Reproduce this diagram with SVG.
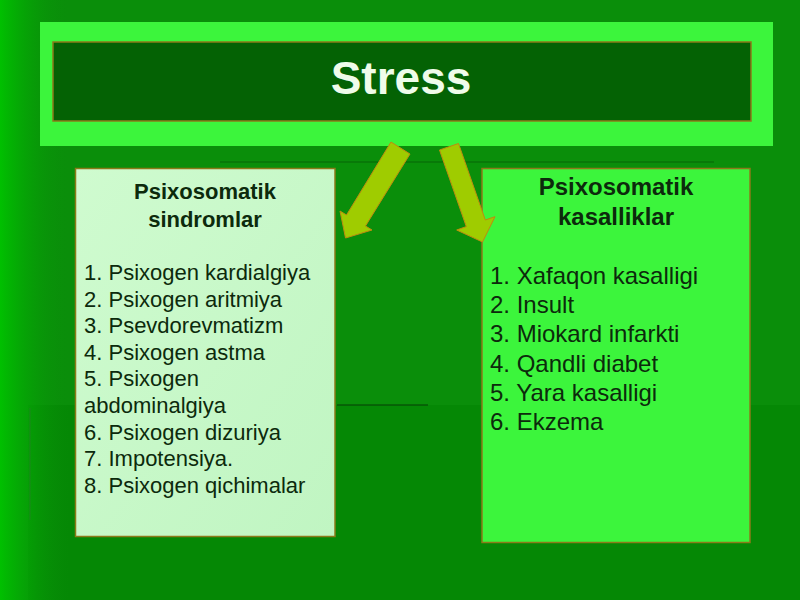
<svg xmlns="http://www.w3.org/2000/svg" width="800" height="600" viewBox="0 0 800 600">
  <defs>
    <linearGradient id="leftGlow" x1="0" y1="0" x2="1" y2="0">
      <stop offset="0" stop-color="#00c000"/>
      <stop offset="1" stop-color="#0a8e0a" stop-opacity="0"/>
    </linearGradient>
    <linearGradient id="paleFill" x1="0" y1="0" x2="1" y2="1">
      <stop offset="0" stop-color="#cffbcf"/>
      <stop offset="1" stop-color="#c0f5c2"/>
    </linearGradient>
    <style>
      .box { stroke: #8c7a1a; stroke-width: 1.5; }
      .head { font-family: "Liberation Sans", Arial, sans-serif; font-weight: bold; fill: #0c2a0c; text-anchor: middle; }
      .item { font-family: "Liberation Sans", Arial, sans-serif; fill: #0c2a0c; }
      .arrow { fill: #9fcc00; stroke: #c08a10; stroke-width: 1; stroke-linejoin: round; }
    </style>
  </defs>

  <!-- background -->
  <rect x="0" y="0" width="800" height="600" fill="#0a8e0a"/>
  <rect x="28" y="405" width="772" height="195" fill="#058805"/>
  <rect x="0" y="0" width="70" height="600" fill="url(#leftGlow)"/>
  <line x1="30" y1="408" x2="30" y2="520" stroke="#2f7a2f" stroke-width="1.5" opacity="0.4"/>
  <line x1="220" y1="162" x2="714" y2="162" stroke="#064a06" stroke-width="1.5" opacity="0.4"/>
  <line x1="337" y1="405" x2="428" y2="405" stroke="#064a06" stroke-width="2" opacity="0.6"/>

  <g id="stress">
    <rect x="40" y="22" width="733" height="124" fill="#3cf53c"/>
    <rect x="53" y="42" width="698" height="79" fill="#046204" class="box"/>
    <text x="401" y="94" font-family="Liberation Sans, Arial, sans-serif" font-weight="bold" font-size="46" fill="#effcea" text-anchor="middle">Stress</text>
  </g>

  <g id="sindromlar">
    <rect x="75.5" y="168.5" width="259.5" height="368" fill="url(#paleFill)" class="box"/>
    <text class="head" font-size="22" x="205" y="199">Psixosomatik</text>
    <text class="head" font-size="22" x="205" y="226.5">sindromlar</text>
    <text class="item" font-size="22" x="84" y="280">1. Psixogen kardialgiya</text>
    <text class="item" font-size="22" x="84" y="306.6">2. Psixogen aritmiya</text>
    <text class="item" font-size="22" x="84" y="333.2">3. Psevdorevmatizm</text>
    <text class="item" font-size="22" x="84" y="359.8">4. Psixogen astma</text>
    <text class="item" font-size="22" x="84" y="386.4">5. Psixogen</text>
    <text class="item" font-size="22" x="84" y="413">abdominalgiya</text>
    <text class="item" font-size="22" x="84" y="439.6">6. Psixogen dizuriya</text>
    <text class="item" font-size="22" x="84" y="466.2">7. Impotensiya.</text>
    <text class="item" font-size="22" x="84" y="492.8">8. Psixogen qichimalar</text>
  </g>

  <g id="kasalliklar">
    <rect x="482" y="168.5" width="268" height="374" fill="#3cf53c" class="box"/>
    <text class="head" font-size="24" x="616" y="195">Psixosomatik</text>
    <text class="head" font-size="24" x="616" y="225">kasalliklar</text>
    <text class="item" font-size="24" x="490" y="284">1. Xafaqon kasalligi</text>
    <text class="item" font-size="24" x="490" y="313.2">2. Insult</text>
    <text class="item" font-size="24" x="490" y="342.4">3. Miokard infarkti</text>
    <text class="item" font-size="24" x="490" y="371.6">4. Qandli diabet</text>
    <text class="item" font-size="24" x="490" y="400.8">5. Yara kasalligi</text>
    <text class="item" font-size="24" x="490" y="430">6. Ekzema</text>
  </g>

  <g id="connectors">
    <polygon class="arrow" points="391,142 410,154 365.5,226 372,230 345.5,238 340,211 346.5,215"/>
    <polygon class="arrow" points="439.5,150 458.5,143.5 485.3,220 495,216.7 482.5,242 456.7,230 466.3,226.6"/>
  </g>
</svg>
